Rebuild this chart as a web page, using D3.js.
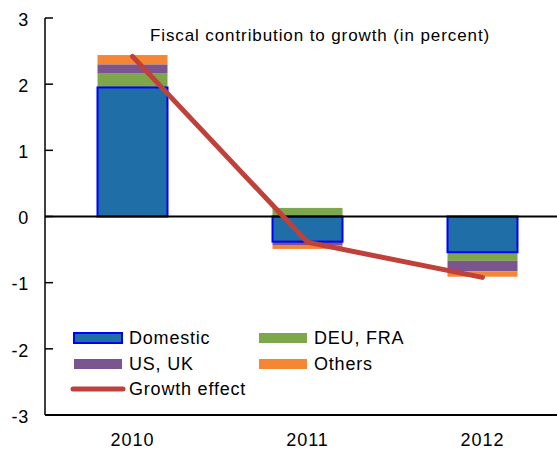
<!DOCTYPE html>
<html>
<head>
<meta charset="utf-8">
<script src="https://cdn.jsdelivr.net/npm/d3@7"></script>
<style>
  html, body { margin: 0; padding: 0; background: #fff; }
  svg { display: block; font-family: "Liberation Sans", Arial, sans-serif; }
</style>
</head>
<body>
<svg id="chart" width="557" height="449"></svg>
<script>
// Fiscal contribution to growth, by source (percentage points)
const years = ["2010", "2011", "2012"];
const domestic = [1.95, -0.38, -0.54];
const deuFra = [0.21, 0.13, -0.13];
const usUk = [0.14, -0.06, -0.16];
const others = [0.14, -0.05, -0.08];
const growthEffect = [2.42, -0.39, -0.92];
const yTicks = [-3, -2, -1, 0, 1, 2, 3];

const seriesNames = ["Domestic", "DEU, FRA", "US, UK", "Others"];
const seriesValues = [domestic, deuFra, usUk, others];
const seriesColors = ["#1F6EA7", "#7EA64A", "#7A5590", "#F58634"];

const svg = d3.select("#chart");
const plotLeft = 45, plotRight = 570, plotTop = 18, plotBottom = 415;

const x = d3.scaleBand().domain(years).range([plotLeft, plotRight]).paddingInner(0.6).paddingOuter(0.3);
const y = d3.scaleLinear().domain([-3, 3]).range([plotBottom, plotTop]);

// Stack positive and negative contributions separately
const segments = [];
years.forEach((yr, i) => {
  let pos = 0, neg = 0;
  seriesValues.forEach((vals, s) => {
    const v = vals[i];
    let y0, y1;
    if (v >= 0) { y0 = pos; y1 = pos + v; pos = y1; }
    else { y0 = neg; y1 = neg + v; neg = y1; }
    segments.push({ year: yr, s, y0, y1 });
  });
});

// Draw non-domestic segments first, domestic (with outline) on top
const ordered = segments.filter(d => d.s !== 0).concat(segments.filter(d => d.s === 0));
svg.append("g").selectAll("rect").data(ordered).join("rect")
  .attr("x", d => x(d.year))
  .attr("width", x.bandwidth())
  .attr("y", d => y(Math.max(d.y0, d.y1)))
  .attr("height", d => Math.abs(y(d.y0) - y(d.y1)))
  .attr("fill", d => seriesColors[d.s])
  .attr("stroke", d => d.s === 0 ? "#0000FF" : "none")
  .attr("stroke-width", 2);

// Axes
const axisG = svg.append("g");
axisG.append("line").attr("x1", plotLeft).attr("x2", 557).attr("y1", y(0)).attr("y2", y(0))
  .attr("stroke", "#000").attr("stroke-width", 2);
axisG.append("line").attr("x1", plotLeft).attr("x2", 557).attr("y1", plotBottom).attr("y2", plotBottom)
  .attr("stroke", "#000").attr("stroke-width", 2);
axisG.append("line").attr("x1", plotLeft).attr("x2", plotLeft).attr("y1", plotTop).attr("y2", plotBottom)
  .attr("stroke", "#000").attr("stroke-width", 1.5);
axisG.selectAll("line.tick").data(yTicks).join("line")
  .attr("class", "tick")
  .attr("x1", plotLeft).attr("x2", plotLeft + 8)
  .attr("y1", d => y(d)).attr("y2", d => y(d))
  .attr("stroke", "#000").attr("stroke-width", 1.5);
axisG.selectAll("text.ylab").data(yTicks).join("text")
  .attr("class", "ylab")
  .attr("x", 29).attr("y", d => y(d) + 1.5).attr("dy", "0.35em")
  .attr("text-anchor", "end").attr("font-size", 18).attr("letter-spacing", 0.8).attr("fill", "#000")
  .text(d => d);
axisG.selectAll("text.xlab").data(years).join("text")
  .attr("class", "xlab")
  .attr("x", d => x(d) + x.bandwidth() / 2).attr("y", 446)
  .attr("text-anchor", "middle").attr("font-size", 18).attr("letter-spacing", 1).attr("fill", "#000")
  .text(d => d);

// Growth effect line
const line = d3.line().x((d, i) => x(years[i]) + x.bandwidth() / 2).y(d => y(d));
svg.append("path").datum(growthEffect)
  .attr("d", line).attr("fill", "none")
  .attr("stroke", "#C0403A").attr("stroke-width", 5).attr("stroke-linecap", "round");

// Title
svg.append("text").attr("x", 320).attr("y", 41).attr("text-anchor", "middle")
  .attr("font-size", 17).attr("letter-spacing", 0.9).attr("fill", "#000")
  .text("Fiscal contribution to growth (in percent)");

// Legend
const legendItems = [
  { name: seriesNames[0], type: "box", color: seriesColors[0], lx: 74, ly: 338 },
  { name: seriesNames[1], type: "box", color: seriesColors[1], lx: 259, ly: 338 },
  { name: seriesNames[2], type: "box", color: seriesColors[2], lx: 74, ly: 364 },
  { name: seriesNames[3], type: "box", color: seriesColors[3], lx: 259, ly: 364 },
  { name: "Growth effect", type: "line", color: "#C0403A", lx: 74, ly: 389 }
];
const lg = svg.append("g").selectAll("g").data(legendItems).join("g");
lg.filter(d => d.type === "box").append("rect")
  .attr("x", d => d.lx).attr("y", d => d.ly - 5).attr("width", 48).attr("height", 10)
  .attr("fill", d => d.color)
  .attr("stroke", d => d.name === "Domestic" ? "#0000FF" : "none").attr("stroke-width", 2);
lg.filter(d => d.type === "line").append("line")
  .attr("x1", d => d.lx - 1).attr("x2", d => d.lx + 49).attr("y1", d => d.ly).attr("y2", d => d.ly)
  .attr("stroke", d => d.color).attr("stroke-width", 5).attr("stroke-linecap", "round");
lg.append("text")
  .attr("x", d => d.lx + 55).attr("y", d => d.ly).attr("dy", "0.35em")
  .attr("font-size", 18).attr("letter-spacing", 0.8).attr("fill", "#000")
  .text(d => d.name);
</script>
</body>
</html>
